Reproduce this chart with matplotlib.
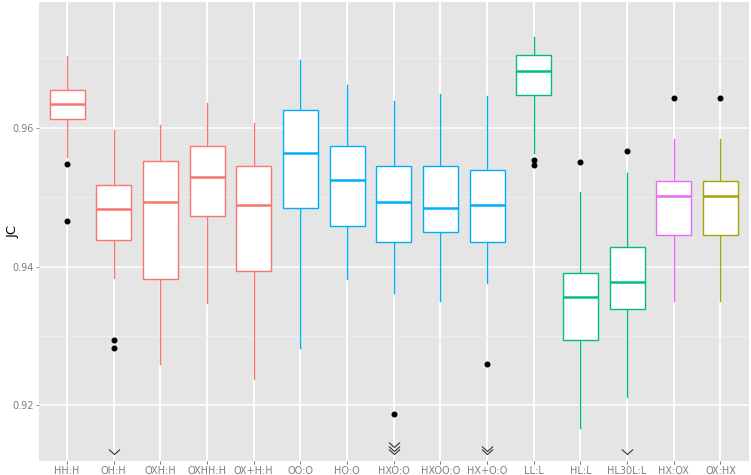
import matplotlib
matplotlib.use('Agg')
import matplotlib.pyplot as plt
from matplotlib.transforms import blended_transform_factory, offset_copy

# box stats
labels = ['HH:H', 'OH:H', 'OXH:H', 'OXHH:H', 'OX+H:H', 'OO:O', 'HO:O', 'HXO:O',
          'HXOO:O', 'HX+O:O', 'LL:L', 'HL:L', 'HL30L:L', 'HX:OX', 'OX:HX']
groups = ['H', 'H', 'H', 'H', 'H', 'O', 'O', 'O', 'O', 'O', 'L', 'L', 'L', 'OX', 'HX']
whislo = [0.9558, 0.9383, 0.9260, 0.9347, 0.9238, 0.9283, 0.9382, 0.9362,
          0.9350, 0.9376, 0.9564, 0.9168, 0.9212, 0.9351, 0.9351]
q1 = [0.9613, 0.9438, 0.9382, 0.9473, 0.9394, 0.9485, 0.9459, 0.9435,
      0.9449, 0.9436, 0.9647, 0.9294, 0.9339, 0.9446, 0.9446]
med = [0.9634, 0.9483, 0.9493, 0.9529, 0.9489, 0.9564, 0.9524, 0.9493,
       0.9485, 0.9489, 0.9681, 0.9356, 0.9378, 0.9501, 0.9501]
q3 = [0.9655, 0.9518, 0.9552, 0.9573, 0.9545, 0.9626, 0.9574, 0.9545,
      0.9545, 0.9539, 0.9705, 0.9391, 0.9428, 0.9523, 0.9523]
whishi = [0.9704, 0.9596, 0.9604, 0.9635, 0.9607, 0.9697, 0.9662, 0.9639,
          0.9649, 0.9645, 0.9730, 0.9507, 0.9535, 0.9584, 0.9584]
fliers = [[0.9548, 0.9466], [0.9294, 0.9283], [], [], [], [], [], [0.9187],
          [], [0.9260], [0.9554, 0.9546], [0.9551], [0.9566], [0.9643], [0.9643]]
# outliers beyond the lower limit, shown as chevrons
below = [0, 1, 0, 0, 0, 0, 0, 3, 0, 2, 0, 0, 1, 0, 0]

group_colors = {'H': '#F8766D', 'HX': '#A3A500', 'L': '#00BF7D',
                'O': '#00B0F6', 'OX': '#E76BF3'}

fig = plt.figure(figsize=(7.51, 4.75), dpi=100)
ax = fig.add_axes([39 / 751, 1 - 460.5 / 475, 709.5 / 751, 458.5 / 475])
ax.set_facecolor('#E5E5E5')
for s in ax.spines.values():
    s.set_visible(False)

ax.set_xlim(0.4, 15.6)
ax.set_ylim(0.91205, 0.97811)
ax.set_yticks([0.92, 0.94, 0.96])
ax.set_yticklabels(['0.92', '0.94', '0.96'])
ax.set_yticks([0.93, 0.95, 0.97], minor=True)
ax.set_xticks(range(1, 16))
ax.set_xticklabels(labels)
ax.grid(True, which='major', color='white', linewidth=1.1)
ax.grid(True, which='minor', axis='y', color='#F2F2F2', linewidth=0.5)
ax.set_axisbelow(True)
ax.tick_params(axis='both', which='major', colors='#7F7F7F', labelcolor='#7F7F7F',
               labelsize=7, length=2.5, width=0.6, pad=1.5)
ax.tick_params(axis='y', which='minor', length=0)
ax.set_ylabel('JC', fontsize=9.5, color='black')
ax.yaxis.set_label_coords(-0.028, 0.5)

stats = []
for i in range(len(labels)):
    stats.append({'whislo': whislo[i], 'q1': q1[i], 'med': med[i], 'q3': q3[i],
                  'whishi': whishi[i], 'fliers': fliers[i], 'label': labels[i]})

bp = ax.bxp(stats, positions=range(1, 16), widths=0.75, patch_artist=True,
            showcaps=False, showfliers=True)
for i, g in enumerate(groups):
    c = group_colors[g]
    bp['boxes'][i].set(facecolor='white', edgecolor=c, linewidth=1.0, zorder=3)
    bp['medians'][i].set(color=c, linewidth=1.8, zorder=4)
    bp['whiskers'][2 * i].set(color=c, linewidth=1.0)
    bp['whiskers'][2 * i + 1].set(color=c, linewidth=1.0)
    bp['fliers'][i].set(marker='o', markerfacecolor='black', markeredgecolor='black',
                        markersize=3.3, zorder=5)

# chevrons for points below the plotted range
chev = [(-1, 0.9), (0, 0), (1, 0.9)]
tr = blended_transform_factory(ax.transData, ax.transAxes)
for i, n in enumerate(below):
    for k in range(n):
        t = offset_copy(tr, fig=fig, x=0, y=6.5 + 3.4 * k, units='dots')
        ax.plot([i + 1], [0], transform=t, marker=chev, markersize=8,
                markerfacecolor='none', markeredgecolor='#333333',
                markeredgewidth=0.8, linestyle='none', clip_on=False, zorder=6)

fig.savefig('out.png', dpi=100)
